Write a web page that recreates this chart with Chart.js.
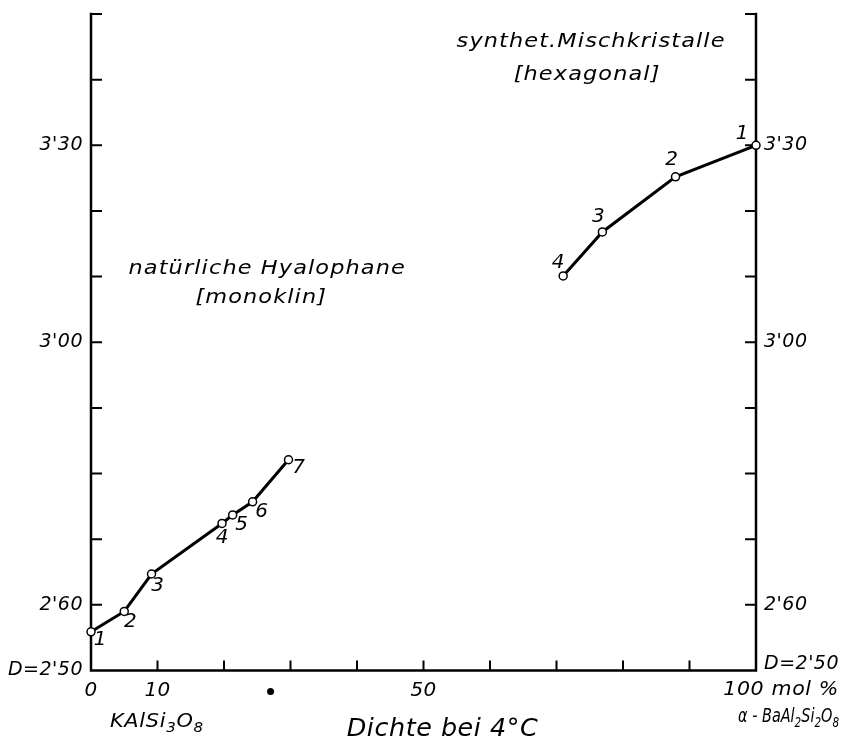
<!DOCTYPE html>
<html><head><meta charset="utf-8">
<script src="https://cdn.jsdelivr.net/npm/chart.js@4/dist/chart.umd.min.js"></script>
<style>html,body{margin:0;padding:0;background:#fff}#wrap{width:847px;height:742px}</style>
</head><body><div id="wrap"><canvas id="c" width="847" height="742"></canvas></div>
<script>
// ---- data ----
const hyalophaneX = [0, 5.0, 9.1, 19.7, 21.3, 24.3, 29.7];
const hyalophaneY = [2.559, 2.590, 2.647, 2.724, 2.737, 2.757, 2.821];
const hyalophaneLabels = ['1', '2', '3', '4', '5', '6', '7'];
const syntheticX = [100, 87.9, 76.9, 71.0];
const syntheticY = [3.300, 3.252, 3.168, 3.101];
const syntheticLabels = ['1', '2', '3', '4'];
const xTickValues = [10, 20, 30, 40, 50, 60, 70, 80, 90];
const xLabelValues = [0, 10, 50];
const xLabelTexts = ['0', '10', '50'];
const yTickValues = [2.6, 2.7, 2.8, 2.9, 3.0, 3.1, 3.2, 3.3, 3.4, 3.5];
const yLabelValues = [3.3, 3.0, 2.6, 2.5];
const yLabelTexts = ["3'30", "3'00", "2'60", "D=2'50"];
const strayDotX = 27;

// ---- styling (not data) ----
const FONT = '"DejaVu Sans", sans-serif';
const hyalLabelOffsets = [[9, 8], [6, 11], [6, 12], [0, 15], [9, 10], [9, 10], [10, 8]];
const synLabelOffsets = [[-14, -11], [-4, -17], [-4, -15], [-5, -13]];

function pts(xs, ys) { return xs.map((x, i) => ({ x: x, y: ys[i] })); }

// draws text segments (with optional subscripts), horizontally scaled
function drawText(ctx, segs, x, y, align, size, hscale, spacing) {
  if (typeof segs === 'string') segs = [{ t: segs }];
  ctx.save();
  ctx.letterSpacing = spacing + 'px';
  let w = 0;
  segs.forEach(s => {
    ctx.font = 'italic ' + (s.sub ? size * 0.72 : size) + 'px ' + FONT;
    s.w = ctx.measureText(s.t).width;
    w += s.w;
  });
  const total = w * hscale;
  let left = align === 'right' ? x - total : (align === 'center' ? x - total / 2 : x);
  ctx.translate(left, y);
  ctx.scale(hscale, 1);
  ctx.textAlign = 'left';
  ctx.textBaseline = 'middle';
  let cx = 0;
  segs.forEach(s => {
    ctx.font = 'italic ' + (s.sub ? size * 0.72 : size) + 'px ' + FONT;
    ctx.fillText(s.t, cx, s.sub ? size * 0.3 : 0);
    cx += s.w;
  });
  ctx.restore();
}

const frame = {
  id: 'frame',
  beforeDatasetsDraw(chart) {
    const ctx = chart.ctx, xs = chart.scales.x, ys = chart.scales.y;
    const xL = xs.getPixelForValue(0), xR = xs.getPixelForValue(100);
    const yB = ys.getPixelForValue(2.5), yT = ys.getPixelForValue(3.5);
    ctx.save();
    ctx.strokeStyle = '#000';
    ctx.lineWidth = 2.5;
    ctx.lineCap = 'square';
    ctx.beginPath();
    ctx.moveTo(xL, yT); ctx.lineTo(xL, yB); ctx.lineTo(xR, yB); ctx.lineTo(xR, yT);
    ctx.stroke();
    ctx.lineWidth = 2;
    ctx.lineCap = 'butt';
    ctx.beginPath();
    yTickValues.forEach(v => {
      const p = ys.getPixelForValue(v);
      ctx.moveTo(xL, p); ctx.lineTo(xL + 11, p);
      ctx.moveTo(xR, p); ctx.lineTo(xR - 11, p);
    });
    xTickValues.forEach(v => {
      const p = xs.getPixelForValue(v);
      ctx.moveTo(p, yB); ctx.lineTo(p, yB - 10);
    });
    ctx.stroke();
    ctx.restore();
  },
  afterDatasetsDraw(chart) {
    const ctx = chart.ctx, xs = chart.scales.x, ys = chart.scales.y;
    const xL = xs.getPixelForValue(0), xR = xs.getPixelForValue(100);
    const yB = ys.getPixelForValue(2.5);
    ctx.save();
    ctx.fillStyle = '#000';
    // y labels left & right
    yLabelValues.forEach((v, i) => {
      const p = ys.getPixelForValue(v);
      drawText(ctx, yLabelTexts[i], xL - 8, p, 'right', 19, 1.0, 0.5);
      drawText(ctx, yLabelTexts[i], xR + 8, v === 2.5 ? p - 6 : p, 'left', 19, 1.0, 0.5);
    });
    // x labels
    xLabelValues.forEach((v, i) => {
      drawText(ctx, xLabelTexts[i], xs.getPixelForValue(v), yB + 21, 'center', 19, 1.05, 0.4);
    });
    drawText(ctx, '100 mol %', xR + 83, yB + 20, 'right', 19, 1.08, 0.6);
    // compound names
    drawText(ctx, [{ t: 'KAlSi' }, { t: '3', sub: true }, { t: 'O' }, { t: '8', sub: true }], xL + 19, yB + 52, 'left', 19, 1.1, 0.6);
    drawText(ctx, [{ t: 'α - BaAl' }, { t: '2', sub: true }, { t: 'Si' }, { t: '2', sub: true }, { t: 'O' }, { t: '8', sub: true }], xR + 83, yB + 47, 'right', 19, 0.76, 0);
    // axis title
    drawText(ctx, 'Dichte bei 4°C', xs.getPixelForValue(50) + 19, yB + 59, 'center', 24, 1.06, 0.5);
    // annotations
    drawText(ctx, 'natürliche Hyalophane', xs.getPixelForValue(26.5), ys.getPixelForValue(3.112), 'center', 20, 1.12, 1);
    drawText(ctx, '[monoklin]', xs.getPixelForValue(25.6), ys.getPixelForValue(3.068), 'center', 20, 1.12, 1);
    drawText(ctx, 'synthet.Mischkristalle', xs.getPixelForValue(75.2), ys.getPixelForValue(3.457), 'center', 20, 1.12, 1);
    drawText(ctx, '[hexagonal]', xs.getPixelForValue(74.6), ys.getPixelForValue(3.407), 'center', 20, 1.12, 1);
    // point numbers
    const metaH = chart.getDatasetMeta(0), metaS = chart.getDatasetMeta(1);
    metaH.data.forEach((el, i) => {
      drawText(ctx, hyalophaneLabels[i], el.x + hyalLabelOffsets[i][0], el.y + hyalLabelOffsets[i][1], 'center', 19, 1.05, 0);
    });
    metaS.data.forEach((el, i) => {
      drawText(ctx, syntheticLabels[i], el.x + synLabelOffsets[i][0], el.y + synLabelOffsets[i][1], 'center', 19, 1.05, 0);
    });
    // stray dot
    ctx.beginPath();
    ctx.arc(xs.getPixelForValue(strayDotX), yB + 21, 3.5, 0, Math.PI * 2);
    ctx.fill();
    ctx.restore();
  }
};

const common = {
  showLine: true, borderColor: '#000', borderWidth: 3,
  pointRadius: 4, pointBackgroundColor: '#fff', pointBorderColor: '#000', pointBorderWidth: 1.5,
  clip: false, tension: 0
};

new Chart(document.getElementById('c'), {
  type: 'scatter',
  data: {
    datasets: [
      Object.assign({ label: 'natürliche Hyalophane [monoklin]', data: pts(hyalophaneX, hyalophaneY) }, common),
      Object.assign({ label: 'synthet. Mischkristalle [hexagonal]', data: pts(syntheticX, syntheticY) }, common)
    ]
  },
  options: {
    responsive: false, animation: false, devicePixelRatio: 1,
    layout: { padding: { left: 91, right: 91, top: 14, bottom: 71.5 } },
    scales: {
      x: { type: 'linear', min: 0, max: 100, display: false },
      y: { type: 'linear', min: 2.5, max: 3.5, display: false }
    },
    plugins: { legend: { display: false }, tooltip: { enabled: false } }
  },
  plugins: [frame]
});
</script></body></html>
